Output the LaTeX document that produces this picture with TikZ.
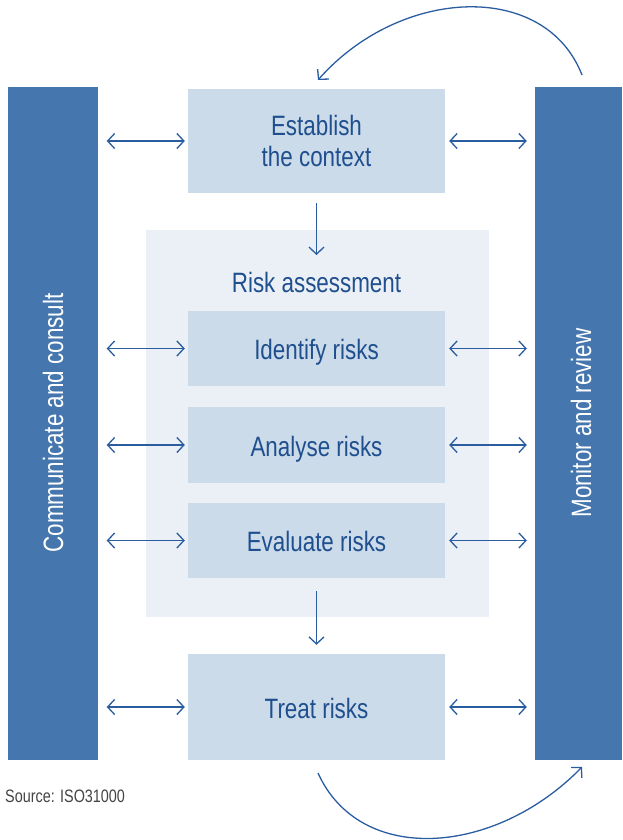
\documentclass[tikz,border=0pt]{standalone}
\usepackage{fontspec}
\setmainfont{Liberation Sans}[FakeStretch=0.8]
\usetikzlibrary{arrows.meta}
\definecolor{bar}{HTML}{4577AE}
\definecolor{lbox}{HTML}{CBDBE9}
\definecolor{rabg}{HTML}{EBF0F6}
\definecolor{txt}{HTML}{1F4F8E}
\definecolor{arr}{HTML}{2A5CA0}
\definecolor{src}{HTML}{444444}
\begin{document}
\begin{tikzpicture}[x=1pt,y=-1pt,
  barbox/.style={fill=bar, draw=none, minimum width=90pt, minimum height=673pt, inner sep=0pt},
  stepbox/.style={fill=lbox, draw=none, minimum width=257pt, inner sep=0pt, text=txt, font=\fontsize{28}{31}\selectfont, align=center},
  oneline/.style={text height=22pt, text depth=0pt},
  bartext/.style={text=white, font=\fontsize{28}{31}\selectfont, rotate=90},
  dbl/.style={arr, line width=1.3pt, {Straight Barb[length=7pt,width=15pt]}-{Straight Barb[length=7pt,width=15pt]}},
  sgl/.style={arr, line width=1.3pt, -{Straight Barb[length=7pt,width=15pt]}}]
\useasboundingbox (0,0) rectangle (622,840);
% risk assessment background
\node[fill=rabg, draw=none, minimum width=343pt, minimum height=387pt, inner sep=0pt] (ra) at (317.5,423.5) {};
\node[text=txt, font=\fontsize{28}{31}\selectfont] (ratitle) at (316.5,282) {Risk assessment};
% bars
\node[barbox] (lbar) at (52.5,423.5) {};
\node[barbox, minimum width=87pt] (rbar) at (578.5,423.5) {};
\node[bartext] (ltext) at (53,423) {Communicate and consult};
\node[bartext] (rtext) at (581,423) {Monitor and review};
% steps
\node[stepbox, minimum height=104pt] (est) at (316.5,141) {Establish\\the context};
\node[stepbox, oneline, minimum height=75pt] (ide) at (316.5,348.5) {Identify risks};
\node[stepbox, oneline, minimum height=76pt] (ana) at (316.5,445) {Analyse risks};
\node[stepbox, oneline, minimum height=75pt] (eva) at (316.5,540.5) {Evaluate risks};
\node[stepbox, oneline, minimum height=106pt] (tre) at (316.5,707) {Treat risks};
% horizontal arrows
\foreach \n in {est,ide,ana,eva,tre}{
  \draw[dbl, shorten <=9pt, shorten >=3pt] (lbar.east |- \n.west) -- (\n.west);
  \draw[dbl, shorten <=4pt, shorten >=8pt] (\n.east) -- (rbar.west |- \n.east);
}
% down arrows
\coordinate (d1) at (316.5,255);
\draw[sgl, shorten <=10pt] (est.south) -- (d1);
\draw[sgl, shorten <=13pt, shorten >=9pt] (eva.south) -- (tre.north);
% arcs
\coordinate (ta) at (582,75);
\coordinate (tb) at (318,80);
\coordinate (ba) at (318,773);
\coordinate (bb) at (582,767);
\draw[sgl] (ta) .. controls (545,-20) and (400,-13) .. (tb);
\draw[sgl] (ba) .. controls (360,866) and (495,856) .. (bb);
% source
\node[anchor=west, text=src, font=\fontsize{18}{20}\selectfont, inner sep=0pt] (source) at (5,796) {Source: ISO31000};
\end{tikzpicture}
\end{document}
